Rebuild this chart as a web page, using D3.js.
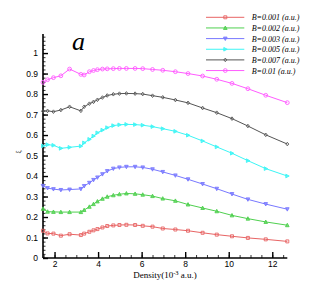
<!DOCTYPE html>
<html>
<head>
<meta charset="utf-8">
<script src="https://cdn.jsdelivr.net/npm/d3@7"></script>
<style>
  body { margin: 0; background: #fff; }
  .tick text { font-family: Arial, "Liberation Sans", sans-serif; font-size: 8.5px; fill: #000; }
</style>
</head>
<body>
<script>
const density = [1.47, 1.68, 1.95, 2.29, 2.69, 3.21, 3.36, 3.6, 3.79, 3.97, 4.2, 4.42, 4.7, 4.98, 5.3, 5.7, 6.05, 6.5, 6.97, 7.55, 8.13, 8.8, 9.45, 10.15, 10.88, 11.7, 12.69];

const b001 = [0.133, 0.120, 0.119, 0.109, 0.116, 0.112, 0.119, 0.128, 0.135, 0.141, 0.149, 0.156, 0.159, 0.161, 0.162, 0.161, 0.157, 0.153, 0.144, 0.139, 0.133, 0.123, 0.114, 0.106, 0.098, 0.091, 0.081];
const b002 = [0.240, 0.226, 0.225, 0.224, 0.224, 0.224, 0.234, 0.250, 0.263, 0.276, 0.289, 0.299, 0.306, 0.311, 0.315, 0.313, 0.309, 0.302, 0.290, 0.279, 0.261, 0.244, 0.228, 0.208, 0.192, 0.176, 0.160];
const b003 = [0.352, 0.341, 0.336, 0.332, 0.334, 0.337, 0.351, 0.367, 0.381, 0.393, 0.409, 0.424, 0.436, 0.442, 0.445, 0.445, 0.442, 0.433, 0.420, 0.403, 0.384, 0.361, 0.338, 0.312, 0.286, 0.263, 0.238];
const b005 = [0.547, 0.553, 0.550, 0.535, 0.540, 0.546, 0.562, 0.579, 0.595, 0.611, 0.624, 0.636, 0.646, 0.650, 0.652, 0.651, 0.648, 0.641, 0.631, 0.618, 0.599, 0.571, 0.542, 0.511, 0.475, 0.436, 0.400];
const b007 = [0.716, 0.718, 0.714, 0.722, 0.738, 0.718, 0.738, 0.753, 0.762, 0.772, 0.783, 0.793, 0.799, 0.802, 0.803, 0.802, 0.800, 0.792, 0.784, 0.771, 0.757, 0.732, 0.709, 0.680, 0.644, 0.601, 0.556];
const b010 = [0.857, 0.870, 0.880, 0.889, 0.922, 0.896, 0.893, 0.909, 0.915, 0.919, 0.922, 0.923, 0.924, 0.925, 0.925, 0.925, 0.924, 0.920, 0.916, 0.909, 0.900, 0.888, 0.872, 0.852, 0.826, 0.794, 0.758];

const seriesNames = ['B=0.001 (a.u.)', 'B=0.002 (a.u.)', 'B=0.003 (a.u.)', 'B=0.005 (a.u.)', 'B=0.007 (a.u.)', 'B=0.01 (a.u.)'];
const seriesValues = [b001, b002, b003, b005, b007, b010];
const colors = ['#e86464', '#4fd04f', '#7878ff', '#3cf5f5', '#555555', '#ff5cff'];
const shapes = ['square', 'up', 'down', 'right', 'diamond', 'circle'];

const xTicks = [2, 4, 6, 8, 10, 12];
const yTicks = [0, 0.1, 0.2, 0.3, 0.4, 0.5, 0.6, 0.7, 0.8, 0.9, 1];

const W = 327, H = 291;

const svg = d3.select('body').append('svg')
  .attr('width', W)
  .attr('height', H);

const x = d3.scaleLinear().domain([1.47, 12.69]).range([43, 287.3]);
const y = d3.scaleLinear().domain([0, 1.093]).range([258, 34]);

// minor ticks
svg.append('g')
  .attr('transform', 'translate(0,258)')
  .call(d3.axisBottom(x).tickValues(d3.range(1.5, 12.7, 0.5)).tickSize(-3).tickFormat(''))
  .call(g => g.select('.domain').remove())
  .selectAll('line').attr('stroke', '#000').attr('stroke-width', 0.8);

svg.append('g')
  .attr('transform', 'translate(43,0)')
  .call(d3.axisLeft(y).tickValues(d3.range(0, 1.081, 0.02)).tickSize(-2.5).tickFormat(''))
  .call(g => g.select('.domain').remove())
  .selectAll('line').attr('stroke', '#000').attr('stroke-width', 0.8);

// major ticks
const xAxis = svg.append('g')
  .attr('transform', 'translate(0,258)')
  .call(d3.axisBottom(x).tickValues(xTicks).tickSize(-6).tickPadding(3).tickFormat(d3.format('d')));
xAxis.select('.domain').attr('stroke-width', 1.6).attr('d', 'M43,0H287.3');
xAxis.selectAll('.tick line').attr('stroke-width', 1.4);

const yAxis = svg.append('g')
  .attr('transform', 'translate(43,0)')
  .call(d3.axisLeft(y).tickValues(yTicks).tickSize(-5).tickPadding(5).tickFormat(d => d === 0 || d === 1 ? d3.format('d')(d) : d3.format('.1f')(d)));
yAxis.select('.domain').attr('stroke-width', 1.6).attr('d', 'M0,258V34');
yAxis.selectAll('.tick line').attr('stroke-width', 1.4);

// lines
const line = d3.line()
  .x((d, i) => x(density[i]))
  .y(d => y(d));

function marker(sel, shape, color) {
  const r = 1.5;
  if (shape === 'circle') {
    sel.append('circle').attr('r', r + 0.4).attr('fill', 'none').attr('stroke', color).attr('stroke-width', 0.9);
  } else {
    let pts;
    if (shape === 'square') pts = [[-r, -r], [r, -r], [r, r], [-r, r]];
    if (shape === 'up') pts = [[0, -r - 0.4], [r + 0.3, r], [-r - 0.3, r]];
    if (shape === 'down') pts = [[0, r + 0.4], [r + 0.3, -r], [-r - 0.3, -r]];
    if (shape === 'right') pts = [[r + 0.4, 0], [-r, r + 0.3], [-r, -r - 0.3]];
    if (shape === 'diamond') pts = [[0, -r - 0.3], [r, 0], [0, r + 0.3], [-r, 0]];
    sel.append('path')
      .attr('d', 'M' + pts.map(p => p.join(',')).join('L') + 'Z')
      .attr('fill', shape === 'square' || shape === 'diamond' ? 'none' : color)
      .attr('fill-opacity', 0.7)
      .attr('stroke', color)
      .attr('stroke-width', 0.9);
  }
}

seriesValues.forEach((vals, s) => {
  svg.append('path')
    .datum(vals)
    .attr('d', line)
    .attr('fill', 'none')
    .attr('stroke', colors[s])
    .attr('stroke-width', 1);

  svg.append('g').selectAll('g')
    .data(vals)
    .enter()
    .append('g')
    .attr('transform', (d, i) => `translate(${x(density[i])},${y(d)})`)
    .each(function () { marker(d3.select(this), shapes[s], colors[s]); });
});

// legend
const legend = svg.append('g');
seriesNames.forEach((name, s) => {
  const ly = 17.3 + s * 10.65;
  const row = legend.append('g');
  row.append('line')
    .attr('x1', 206).attr('x2', 244.3)
    .attr('y1', ly).attr('y2', ly)
    .attr('stroke', colors[s])
    .attr('stroke-width', 1);
  marker(row.append('g').attr('transform', `translate(225.3,${ly})`), shapes[s], colors[s]);
  row.append('text')
    .attr('x', 251.7)
    .attr('y', ly + 3)
    .style('font-family', '"Liberation Serif", "Times New Roman", serif')
    .style('font-style', 'italic')
    .style('font-size', '8px')
    .text(name);
});

// labels
svg.append('text')
  .attr('x', 165)
  .attr('y', 278)
  .attr('text-anchor', 'middle')
  .style('font-family', '"Liberation Serif", "Times New Roman", serif')
  .style('font-size', '9px')
  .html('Density(10<tspan dy="-3.5" font-size="6.5px">-3</tspan><tspan dy="3.5"> a.u.)</tspan>');

svg.append('text')
  .attr('transform', 'translate(20,152) rotate(-90)')
  .attr('text-anchor', 'middle')
  .style('font-family', '"Liberation Serif", "Times New Roman", serif')
  .style('font-size', '7px')
  .text('ξ');

svg.append('text')
  .attr('x', 72)
  .attr('y', 50)
  .style('font-family', '"Liberation Serif", "Times New Roman", serif')
  .style('font-style', 'italic')
  .style('font-size', '26px')
  .text('a');
</script>
</body>
</html>
